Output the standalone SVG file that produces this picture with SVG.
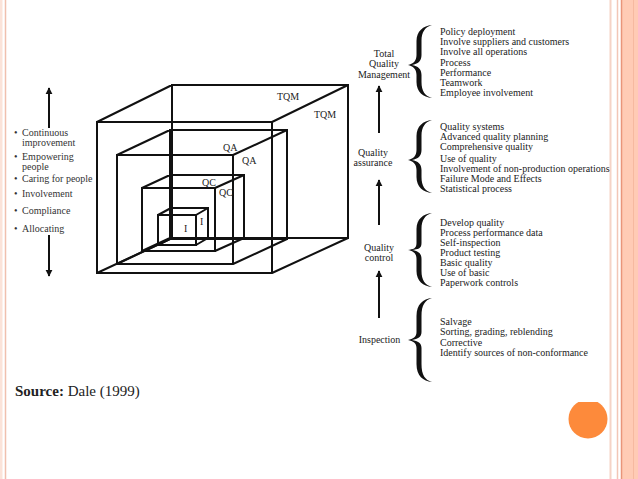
<svg xmlns="http://www.w3.org/2000/svg" width="638" height="479" viewBox="0 0 638 479">
<style>
.t{font-family:"Liberation Serif","Times New Roman",serif;font-size:10px;fill:#222}
.l{font-family:"Liberation Serif","Times New Roman",serif;font-size:10px;fill:#333}
.c{text-anchor:middle}
.cube{fill:none;stroke:#111;stroke-width:2;stroke-linejoin:miter}
.arr{stroke:#111;stroke-width:2;fill:none}
.br{fill:#111}
</style>
<defs>
<marker id="ah" viewBox="0 0 10 10" refX="9" refY="5" markerWidth="3.6" markerHeight="4.4" orient="auto" markerUnits="strokeWidth">
<path d="M0,0 L10,5 L0,10 Z" fill="#111"/>
</marker>
<clipPath id="cc"><rect x="560" y="402" width="60" height="50"/></clipPath>
</defs>
<rect width="638" height="479" fill="#ffffff"/>
<!-- page borders -->
<rect x="0" y="0" width="2.5" height="479" fill="#fbe3d9"/>
<line x1="5.5" y1="0" x2="5.5" y2="479" stroke="#f0c0ae" stroke-width="1.5"/>
<line x1="610.5" y1="0" x2="610.5" y2="479" stroke="#f5d3c6" stroke-width="2"/>
<line x1="617.5" y1="0" x2="617.5" y2="479" stroke="#f2c6b6" stroke-width="1.5"/>
<rect x="621" y="0" width="17" height="479" fill="#ffcbb5"/>
<line x1="621.5" y1="0" x2="621.5" y2="479" stroke="#e9957a" stroke-width="1.5"/>
<line x1="633.5" y1="0" x2="633.5" y2="479" stroke="#f6b9a0" stroke-width="1"/>
<circle cx="588" cy="419" r="19.5" fill="#fd8a3b" clip-path="url(#cc)"/>

<!-- cubes -->
<g id="cube-tqm">
<path class="cube" d="M97,122 H272 V273 H97 Z M172,85 H348 V238 H172 Z M97,122 L172,85 M272,122 L348,85 M272,273 L348,238 M97,273 L172,238"/>
<text class="t" x="277" y="100">TQM</text>
<text class="t" x="314" y="118">TQM</text>
</g>
<g id="cube-qa">
<path class="cube" d="M117,155 H233 V264 H117 Z M170,130 H287 V239 H170 Z M117,155 L170,130 M233,155 L287,130 M233,264 L287,239 M117,264 L170,239"/>
<text class="t" x="223" y="151">QA</text>
<text class="t" x="242" y="164">QA</text>
</g>
<g id="cube-qc">
<path class="cube" d="M142,188 H215 V251 H142 Z M170,175 H244 V238 H170 Z M142,188 L170,175 M215,188 L244,175 M215,251 L244,238 M142,251 L170,238"/>
<text class="t" x="202" y="186">QC</text>
<text class="t" x="219" y="196">QC</text>
</g>
<g id="cube-i">
<path class="cube" d="M158,215 H196 V245 H158 Z M171,208 H208 V238 H171 Z M158,215 L171,208 M196,215 L208,208 M196,245 L208,238 M158,245 L171,238"/>
<text class="t" x="184" y="232">I</text>
<text class="t" x="200" y="225">I</text>
</g>

<!-- left list -->
<g id="left-list">
<text class="l" x="14" y="136">•</text><text class="l" x="22" y="136">Continuous</text>
<text class="l" x="22" y="146">improvement</text>
<text class="l" x="14" y="160">•</text><text class="l" x="22" y="160">Empowering</text>
<text class="l" x="22" y="170">people</text>
<text class="l" x="14" y="182">•</text><text class="l" x="22" y="182">Caring for people</text>
<text class="l" x="14" y="197">•</text><text class="l" x="22" y="197">Involvement</text>
<text class="l" x="14" y="214">•</text><text class="l" x="22" y="214">Compliance</text>
<text class="l" x="14" y="232">•</text><text class="l" x="22" y="232">Allocating</text>
</g>

<!-- right labels -->
<g id="tqm">
<text class="t c" x="384" y="57">Total</text>
<text class="t c" x="384" y="67">Quality</text>
<text class="t c" x="384" y="78">Management</text>
<path class="br" d="M432,25 C423,26 416.5,31 416.5,41 L416.5,55 C416.5,61 413,64 408,65 C413,66 416.5,69 416.5,75 L416.5,82 C416.5,92 423,97 432,98 C425,96 421.5,91 421.5,82 L421.5,75 C421.5,69 418,66 412,65 C418,64 421.5,61 421.5,55 L421.5,41 C421.5,32 425,27 432,25 Z"/>
<text class="t" x="440" y="35">Policy deployment</text>
<text class="t" x="440" y="45">Involve suppliers and customers</text>
<text class="t" x="440" y="55">Involve all operations</text>
<text class="t" x="440" y="66">Process</text>
<text class="t" x="440" y="76">Performance</text>
<text class="t" x="440" y="86">Teamwork</text>
<text class="t" x="440" y="96">Employee involvement</text>
</g>
<g id="qa">
<text class="t c" x="373" y="156">Quality</text>
<text class="t c" x="373" y="166">assurance</text>
<path class="br" d="M432,120 C423,121 416.5,126 416.5,136 L416.5,150 C416.5,156 413,159 408,160 C413,161 416.5,164 416.5,170 L416.5,177 C416.5,187 423,192 432,193 C425,191 421.5,186 421.5,177 L421.5,170 C421.5,164 418,161 412,160 C418,159 421.5,156 421.5,150 L421.5,136 C421.5,127 425,122 432,120 Z"/>
<text class="t" x="440" y="130">Quality systems</text>
<text class="t" x="440" y="140">Advanced quality planning</text>
<text class="t" x="440" y="150">Comprehensive quality</text>
<text class="t" x="440" y="162">Use of quality</text>
<text class="t" x="440" y="172">Involvement of non-production operations</text>
<text class="t" x="440" y="182">Failure Mode and Effects</text>
<text class="t" x="440" y="192">Statistical process</text>
</g>
<g id="qc">
<text class="t c" x="379" y="251">Quality</text>
<text class="t c" x="379" y="261">control</text>
<path class="br" d="M432,213 C423,214 416.5,219 416.5,229 L416.5,243 C416.5,249 413,249 408,250 C413,251 416.5,253 416.5,259 L416.5,271 C416.5,281 423,286 432,287 C425,285 421.5,280 421.5,271 L421.5,259 C421.5,253 418,251 412,250 C418,249 421.5,249 421.5,243 L421.5,229 C421.5,220 425,215 432,213 Z"/>
<text class="t" x="440" y="226">Develop quality</text>
<text class="t" x="440" y="236">Process performance data</text>
<text class="t" x="440" y="246">Self-inspection</text>
<text class="t" x="440" y="256">Product testing</text>
<text class="t" x="440" y="266">Basic quality</text>
<text class="t" x="440" y="276">Use of basic</text>
<text class="t" x="440" y="286">Paperwork controls</text>
</g>
<g id="inspection">
<text class="t c" x="379.5" y="343">Inspection</text>
<path class="br" d="M432,298 C423,299 416.5,304 416.5,316 L416.5,332 C416.5,337 413,339 408,340 C413,341 416.5,343 416.5,348 L416.5,364 C416.5,376 423,381 432,382 C425,380 421.5,375 421.5,364 L421.5,348 C421.5,343 418,341 412,340 C418,339 421.5,337 421.5,332 L421.5,316 C421.5,305 425,300 432,298 Z"/>
<text class="t" x="440" y="325">Salvage</text>
<text class="t" x="440" y="335">Sorting, grading, reblending</text>
<text class="t" x="440" y="346">Corrective</text>
<text class="t" x="440" y="356">Identify sources of non-conformance</text>
</g>

<!-- connectors -->
<g id="connectors">
<line class="arr" x1="49" y1="128" x2="49" y2="88" marker-end="url(#ah)"/>
<line class="arr" x1="49" y1="235" x2="49" y2="276" marker-end="url(#ah)"/>
<line class="arr" x1="379" y1="133" x2="379" y2="86" marker-end="url(#ah)"/>
<line class="arr" x1="379" y1="225" x2="379" y2="180" marker-end="url(#ah)"/>
<line class="arr" x1="379" y1="318" x2="379" y2="271" marker-end="url(#ah)"/>
</g>

<text x="15" y="396" style="font-family:'Liberation Serif','Times New Roman',serif;font-size:15px;fill:#222"><tspan font-weight="bold">Source:</tspan> Dale (1999)</text>
</svg>
